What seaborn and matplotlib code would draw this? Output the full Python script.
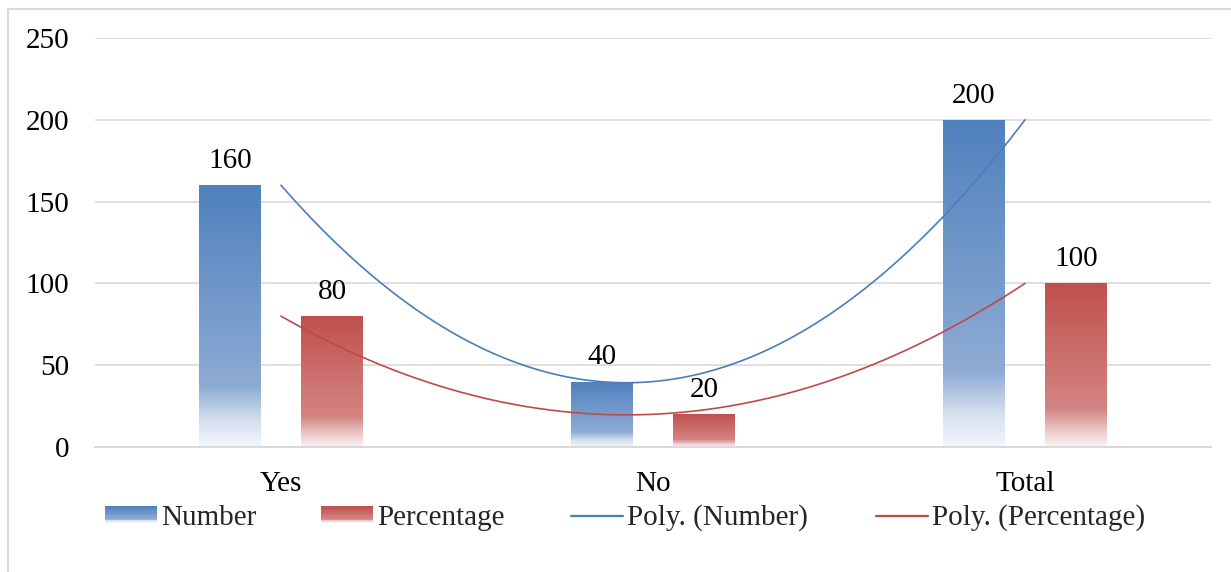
import numpy as np
import pandas as pd
import matplotlib
matplotlib.use("Agg")
import matplotlib.pyplot as plt
import seaborn as sns
from matplotlib.colors import LinearSegmentedColormap
from matplotlib.patches import Rectangle
from matplotlib.legend_handler import HandlerBase
from matplotlib.lines import Line2D

# Данные
categories = ["Yes", "No", "Total"]
number = [160, 40, 200]
percentage = [80, 20, 100]
series_names = ["Number", "Percentage"]
yticks = [0, 50, 100, 150, 200, 250]

sns.set_theme(style="white")
plt.rcParams["font.family"] = ["Liberation Serif", "DejaVu Serif"]
FS = 21

blue = "#4F81BD"
red = "#C0504D"
blue_line = "#4A7EBB"
red_line = "#BE4B48"

# Градиенты как в Excel (сверху насыщенный цвет, внизу почти белый)
cmap_blue = LinearSegmentedColormap.from_list(
    "b", [(0.0, "#4F81BD"), (0.77, "#8EABD4"), (0.9, "#D5E0EF"), (1.0, "#F3F6FB")])
cmap_red = LinearSegmentedColormap.from_list(
    "r", [(0.0, "#C0504D"), (0.77, "#D38583"), (0.9, "#EBC9C8"), (1.0, "#FBF3F3")])
cmaps = [cmap_blue, cmap_red]

df = pd.DataFrame({
    "cat": categories * 2,
    "series": [series_names[0]] * 3 + [series_names[1]] * 3,
    "value": number + percentage,
})

fig = plt.figure(figsize=(12.31, 5.72), dpi=100)
ax = fig.add_axes([95 / 1231, 1 - 447 / 572, (1211 - 95) / 1231, (447 - 38) / 572])

sns.barplot(data=df, x="cat", y="value", hue="series", order=categories,
            hue_order=series_names, width=0.55, gap=0.4,
            palette=[blue, red], ax=ax, legend=False, errorbar=None)

grad = np.linspace(0, 1, 256).reshape(-1, 1)
for cont, cm in zip(ax.containers, cmaps):
    for p in cont.patches:
        x0, y0 = p.get_x(), p.get_y()
        w, h = p.get_width(), p.get_height()
        im = ax.imshow(grad, cmap=cm, aspect="auto", origin="upper",
                       extent=(x0, x0 + w, y0, y0 + h), zorder=2)
        im.set_clip_path(p)
        p.set_facecolor("none")
        p.set_edgecolor("none")
    ax.bar_label(cont, fmt="%g", padding=8, fontsize=FS, color="black")

# Полиномиальные линии тренда (2-я степень)
xs = np.arange(len(categories))
xx = np.linspace(0, len(categories) - 1, 200)
for vals, col in zip([number, percentage], [blue_line, red_line]):
    coef = np.polyfit(xs, vals, 2)
    ax.plot(xx, np.polyval(coef, xx), color=col, lw=1.2, zorder=3)

ax.set_xlim(-0.5, len(categories) - 0.5)
ax.set_ylim(0, 250)
ax.set_yticks(yticks)
ax.set_xlabel("")
ax.set_ylabel("")
ax.yaxis.grid(True, color="#D9D9D9", lw=1.2)
ax.set_axisbelow(True)
for s in ["left", "right", "top"]:
    ax.spines[s].set_visible(False)
ax.spines["bottom"].set_color("#D9D9D9")
ax.spines["bottom"].set_linewidth(1.4)
ax.tick_params(axis="y", length=0, pad=18.5, labelsize=FS, colors="black")
ax.tick_params(axis="x", length=0, pad=17, labelsize=FS, colors="black")


class GradHandler(HandlerBase):
    def __init__(self, cm):
        super().__init__()
        self.cm = cm

    def create_artists(self, legend, orig_handle, xdescent, ydescent,
                       width, height, fontsize, trans):
        n = 20
        arts = []
        for i in range(n):
            t = i / (n - 1)
            r = Rectangle((-xdescent, -ydescent + height * (1 - (i + 1) / n)),
                          width, height / n, facecolor=self.cm(t),
                          edgecolor="none", transform=trans)
            arts.append(r)
        return arts


hb = Rectangle((0, 0), 1, 1)
hr = Rectangle((0, 0), 1, 1)
lb = Line2D([], [], color=blue_line, lw=1.6)
lr = Line2D([], [], color=red_line, lw=1.6)
handles = [hb, hr, lb, lr]
labels = ["Number", "Percentage", "Poly. (Number)", "Poly. (Percentage)"]
leg_x = [105, 321, 571, 876]
hmap = {hb: GradHandler(cmap_blue), hr: GradHandler(cmap_red)}

# Легенда Excel: каждая запись на своём месте
for h, lab, px in zip(handles, labels, leg_x):
    fig.legend([h], [lab], handler_map=hmap, loc="center left",
               bbox_to_anchor=(px / 1231, 1 - 518 / 572),
               frameon=False, fontsize=FS, handlelength=1.77,
               handleheight=0.5, handletextpad=0.14,
               borderpad=0, borderaxespad=0)

# Рамка вокруг диаграммы
fig.patches.append(Rectangle((8 / 1231, -0.1), 1.2, 1.1 - 9 / 572,
                             transform=fig.transFigure, fill=False,
                             edgecolor="#D9D9D9", lw=1.5))

fig.savefig("out.png", dpi=100)
